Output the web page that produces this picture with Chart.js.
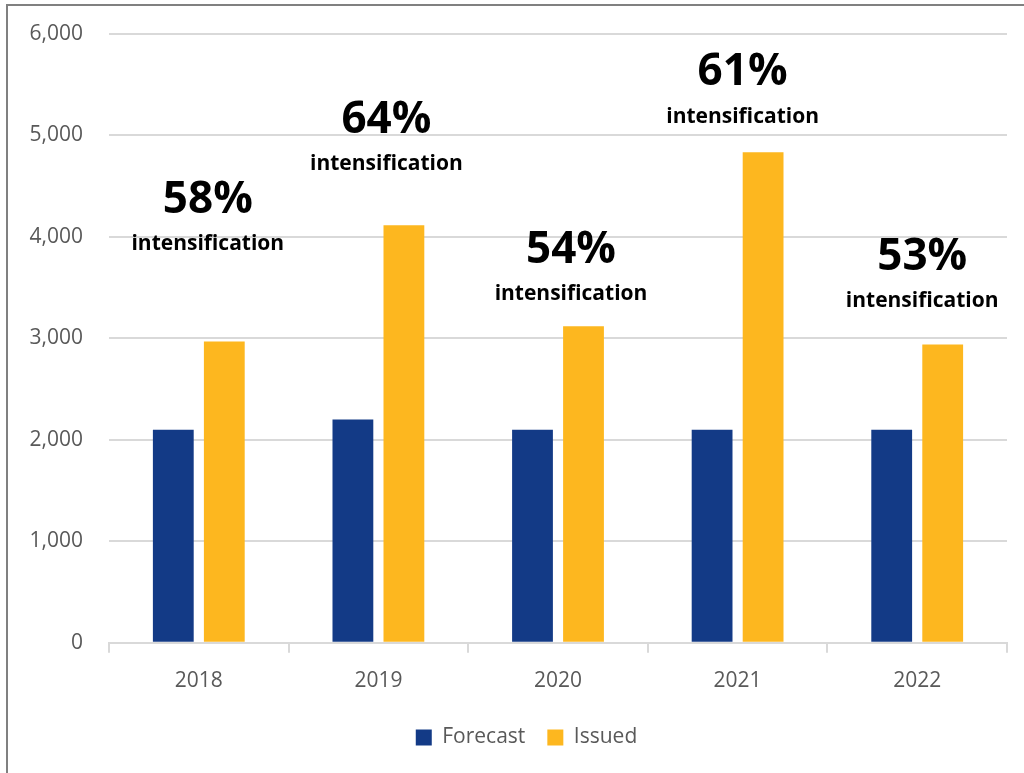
<!DOCTYPE html>
<html>
<head>
<meta charset="utf-8">
<script src="https://cdn.jsdelivr.net/npm/chart.js@4"></script>
<style>
  html, body { margin: 0; padding: 0; background: #fff; }
  #wrap { position: relative; width: 1024px; height: 773px; }
  #frame {
    position: absolute; left: 6px; top: 4px; right: 0; bottom: 0;
    border-left: 2px solid #808080; border-top: 2px solid #808080;
    pointer-events: none;
  }
</style>
</head>
<body>
<div id="wrap">
  <canvas id="chart" width="1024" height="773"></canvas>
  <div id="frame"></div>
</div>
<script>
const years = ['2018', '2019', '2020', '2021', '2022'];
const forecast = [2100, 2200, 2100, 2100, 2100];
const issued = [2970, 4115, 3120, 4835, 2940];
const intensification = [58, 64, 54, 61, 53];
const yTicks = [0, 1000, 2000, 3000, 4000, 5000, 6000];

// percentage notes written above each year's pair of bars
const notesPlugin = {
  id: 'notes',
  afterLayout(chart, args, opts) {
    // nudge the legend so it sits under the middle of the plot
    if (chart.legend) {
      chart.legend.left += opts.legendShift[0];
      chart.legend.right += opts.legendShift[0];
      chart.legend.top += opts.legendShift[1];
      chart.legend.bottom += opts.legendShift[1];
    }
  },
  afterDatasetsDraw(chart, args, opts) {
    const ctx = chart.ctx;
    const xs = chart.scales.x;
    const ys = chart.scales.y;
    ctx.save();
    ctx.fillStyle = '#000';
    ctx.textAlign = 'center';
    ctx.textBaseline = 'middle';
    intensification.forEach((p, i) => {
      const x = xs.getPixelForValue(i) + opts.dx[i];
      const y = ys.getPixelForValue(opts.at[i]);
      ctx.font = 'bold 44px "Open Sans"';
      ctx.fillText(p + '%', x, y);
      ctx.font = 'bold 21px "Open Sans"';
      ctx.fillText('intensification', x, y + 44);
    });
    ctx.restore();
  }
};

new Chart(document.getElementById('chart'), {
  type: 'bar',
  data: {
    labels: years,
    datasets: [
      { label: 'Forecast', data: forecast, backgroundColor: '#133a86' },
      { label: 'Issued', data: issued, backgroundColor: '#fdb71f' }
    ]
  },
  options: {
    responsive: false,
    animation: false,
    devicePixelRatio: 1,
    categoryPercentage: 0.568,
    barPercentage: 0.8,
    layout: { padding: { left: 0, right: 17, top: 34, bottom: 10 } },
    scales: {
      x: {
        grid: {
          offset: true,
          drawOnChartArea: false,
          drawTicks: true,
          tickLength: 10,
          color: '#d9d9d9',
          lineWidth: 2
        },
        border: { color: '#d9d9d9', width: 2 },
        ticks: {
          color: '#595959',
          padding: 16,
          font: { family: 'Open Sans', size: 21 }
        }
      },
      y: {
        min: 0,
        max: 6000,
        afterFit(scale) {
          scale.width = 109;
          scale.paddingTop = 0;
          scale.paddingBottom = 0;
        },
        afterBuildTicks(scale) { scale.ticks = yTicks.map(v => ({ value: v })); },
        grid: { color: '#d9d9d9', lineWidth: 2, drawTicks: false },
        border: { display: false },
        ticks: {
          color: '#595959',
          padding: 26,
          font: { family: 'Open Sans', size: 21 },
          callback: v => v.toLocaleString('en-US')
        }
      }
    },
    plugins: {
      legend: {
        position: 'bottom',
        labels: {
          boxWidth: 16,
          boxHeight: 16,
          padding: 22,
          color: '#595959',
          font: { family: 'Open Sans', size: 21 }
        }
      },
      tooltip: { enabled: false },
      notes: {
        at: [4360, 5150, 3870, 5620, 3800],
        dx: [9, 8, 13, 5, 5],
        legendShift: [23, -5]
      }
    }
  },
  plugins: [notesPlugin]
});
</script>
</body>
</html>
